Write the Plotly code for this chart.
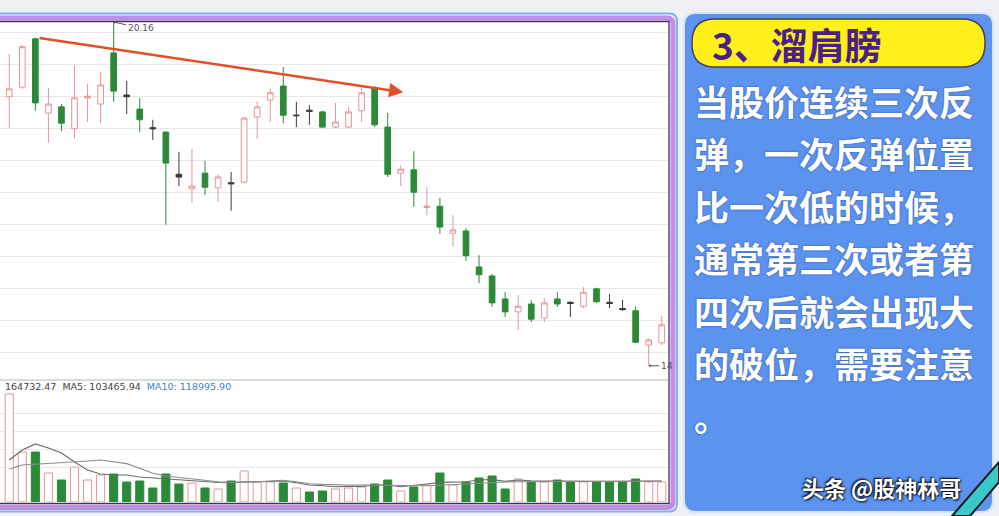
import pandas as pd
import plotly.graph_objects as go

# ---- data ----
open_ = [18.83, 19.00, 19.86, 18.54, 18.65, 18.26, 18.81, 18.70, 19.61, 18.86,
         18.61, 18.28, 18.20, 17.45, 17.19, 17.47, 17.21, 17.30, 17.31, 18.47,
         18.77, 19.02, 18.49, 18.59, 18.56, 18.29, 18.29, 18.58, 18.99, 18.29,
         17.47, 17.53, 16.86, 16.88, 16.40, 16.44, 15.80, 15.64, 15.23, 15.00,
         15.14, 14.89, 15.23, 15.17, 15.10, 15.41, 15.17, 15.06, 15.02, 14.41, 14.45]
high = [19.59, 19.75, 19.88, 18.99, 18.70, 19.39, 19.06, 19.27, 20.16, 19.11,
        18.81, 18.42, 18.21, 17.85, 17.90, 17.69, 17.45, 17.49, 18.47, 18.75,
        18.97, 19.36, 18.74, 18.68, 18.58, 18.72, 18.65, 18.99, 19.02, 18.54,
        17.61, 17.86, 17.22, 17.03, 16.72, 16.49, 16.01, 15.67, 15.35, 15.30,
        15.21, 15.25, 15.35, 15.19, 15.44, 15.43, 15.32, 15.21, 15.10, 14.53, 14.93]
low = [18.27, 18.97, 18.58, 18.01, 18.22, 18.08, 18.38, 18.36, 18.74, 18.52,
       18.20, 18.06, 16.55, 17.24, 16.94, 17.08, 16.96, 16.80, 17.29, 18.08,
       18.38, 18.36, 18.29, 18.33, 18.27, 18.27, 18.27, 18.38, 18.29, 17.40,
       17.24, 16.87, 16.72, 16.39, 16.16, 15.91, 15.51, 15.09, 14.91, 14.68,
       14.82, 14.82, 15.09, 14.91, 15.07, 15.16, 15.07, 15.02, 14.45, 14.04, 14.41]
close = [18.97, 19.72, 18.72, 18.70, 18.36, 18.81, 18.84, 19.04, 18.93, 18.83,
         18.42, 18.26, 17.65, 17.40, 17.24, 17.22, 17.40, 17.28, 18.45, 18.65,
         18.90, 18.50, 18.50, 18.57, 18.29, 18.38, 18.56, 18.90, 18.33, 17.45,
         17.54, 17.13, 16.88, 16.51, 16.46, 16.00, 15.66, 15.16, 15.00, 15.10,
         14.87, 15.16, 15.14, 15.15, 15.35, 15.18, 15.15, 15.04, 14.46, 14.50, 14.77]
# dark cross-star candles
doji = [9, 11, 13, 17, 22, 23, 43, 46, 47]

volume = [864000, 400000, 400000, 232000, 176000, 280000, 176000, 216000, 224000, 160000,
          168000, 112000, 224000, 144000, 152000, 112000, 104000, 168000, 248000, 160000,
          160000, 152000, 112000, 80000, 88000, 104000, 112000, 120000, 144000, 176000,
          88000, 120000, 136000, 232000, 136000, 160000, 192000, 208000, 104000, 184000,
          160000, 160000, 176000, 160000, 160000, 160000, 160000, 160000, 184000, 160000, 160000]
ma5 = [336000, 416000, 464000, 432000, 392000, 320000, 256000, 224000, 216000, 216000,
       200000, 192000, 184000, 176000, 168000, 160000, 156000, 154000, 162000, 162000,
       162000, 168000, 154000, 136000, 130000, 122000, 125000, 125000, 136000, 136000,
       122000, 130000, 144000, 157000, 162000, 162000, 176000, 180000, 165000, 176000,
       170000, 168000, 168000, 168000, 168000, 166000, 166000, 166000, 168000, 168000, 168000]
ma10 = [264000, 296000, 302000, 307000, 312000, 322000, 328000, 336000, 322000, 307000,
        270000, 230000, 208000, 195000, 184000, 173000, 162000, 157000, 157000, 162000,
        168000, 173000, 162000, 146000, 141000, 136000, 136000, 136000, 134000, 132000,
        130000, 128000, 130000, 134000, 140000, 146000, 152000, 156000, 160000, 162000,
        163000, 164000, 165000, 165000, 165000, 166000, 166000, 166000, 166000, 166000, 166000]

trend_x = [2.2, 30.2]
trend_y = [19.88, 18.91]

vol_label = "164732.47  MA5: 103465.94  "
ma10_label = "MA10: 118995.90"
title = "3、溜肩膀"
body_lines = ["当股价连续三次反", "弹，一次反弹位置", "比一次低的时候，",
              "通常第三次或者第", "四次后就会出现大", "的破位，需要注意", "。"]
watermark = "头条 @股神林哥"

# ---- helpers ----
W, H = 999, 516


def X(px):
    return px / W


def Y(py):
    return 1 - py / H


def rr_path(x0, y0, x1, y1, r):
    return (f"M{X(x0 + r)},{Y(y0)} L{X(x1 - r)},{Y(y0)} Q{X(x1)},{Y(y0)} {X(x1)},{Y(y0 + r)} "
            f"L{X(x1)},{Y(y1 - r)} Q{X(x1)},{Y(y1)} {X(x1 - r)},{Y(y1)} "
            f"L{X(x0 + r)},{Y(y1)} Q{X(x0)},{Y(y1)} {X(x0)},{Y(y1 - r)} "
            f"L{X(x0)},{Y(y0 + r)} Q{X(x0)},{Y(y0)} {X(x0 + r)},{Y(y0)} Z")


df = pd.DataFrame({'open': open_, 'high': high, 'low': low, 'close': close,
                   'volume': volume, 'ma5': ma5, 'ma10': ma10})
df['up'] = df['close'] >= df['open']
normal = df.drop(index=doji)
stars = df.loc[doji]

UP = "#e69696"
DOWN = "#2b8a37"

fig = go.Figure()
fig.add_trace(go.Candlestick(
    x=normal.index, open=normal['open'], high=normal['high'], low=normal['low'], close=normal['close'],
    increasing=dict(line=dict(color=UP, width=1), fillcolor="white"),
    decreasing=dict(line=dict(color=DOWN, width=1), fillcolor=DOWN),
    xaxis='x', yaxis='y', showlegend=False, hoverinfo='skip'))
fig.add_trace(go.Candlestick(
    x=stars.index, open=stars['open'], high=stars['high'], low=stars['low'], close=stars['close'],
    increasing=dict(line=dict(color="#3a3a3a", width=1), fillcolor="#3a3a3a"),
    decreasing=dict(line=dict(color="#3a3a3a", width=1), fillcolor="#3a3a3a"),
    xaxis='x', yaxis='y', showlegend=False, hoverinfo='skip'))

fig.add_trace(go.Bar(
    x=df.index, y=df['volume'], width=0.62,
    marker=dict(color=["white" if u else DOWN for u in df['up']],
                line=dict(color=[UP if u else DOWN for u in df['up']], width=1)),
    xaxis='x2', yaxis='y2', showlegend=False, hoverinfo='skip'))
fig.add_trace(go.Scatter(x=df.index, y=df['ma5'], mode='lines',
                         line=dict(color="#6a6a6a", width=1.2),
                         xaxis='x2', yaxis='y2', showlegend=False, hoverinfo='skip'))
fig.add_trace(go.Scatter(x=df.index, y=df['ma10'], mode='lines',
                         line=dict(color="#8c8c8c", width=1.2),
                         xaxis='x2', yaxis='y2', showlegend=False, hoverinfo='skip'))

xrange = [-0.71, 50.48]
fig.update_layout(
    width=W, height=H, autosize=False,
    margin=dict(l=0, r=0, t=0, b=0),
    paper_bgcolor="#eef0f4", plot_bgcolor="rgba(0,0,0,0)",
    boxgap=0.38,
    xaxis=dict(domain=[0, X(668)], range=xrange, showgrid=False, showticklabels=False,
               zeroline=False, rangeslider=dict(visible=False), anchor='y'),
    yaxis=dict(domain=[Y(378), Y(20)], range=[13.823, 20.196], showticklabels=False,
               zeroline=False, gridcolor="#e8e8e8", tick0=19.982, dtick=0.571, anchor='x'),
    xaxis2=dict(domain=[0, X(668)], range=xrange, showgrid=False, showticklabels=False,
                zeroline=False, anchor='y2'),
    yaxis2=dict(domain=[Y(502), Y(382)], range=[0, 960000], showticklabels=False,
                zeroline=False, gridcolor="#e8e8e8",
                tickvals=[280000, 424000, 568000, 712000], anchor='x2'),
)

shapes = [
    # white chart panel
    dict(type='rect', xref='paper', yref='paper', x0=-0.02, x1=X(669), y0=Y(503), y1=Y(21),
         fillcolor="white", line=dict(width=0), layer='below'),
    # separator between price and volume
    dict(type='line', xref='paper', yref='paper', x0=0, x1=X(668), y0=Y(380), y1=Y(380),
         line=dict(color="#cfcfcf", width=1.5), layer='below'),
    # right blue text panel
    dict(type='path', xref='paper', yref='paper', path=rr_path(684, 13, 993, 512, 12),
         fillcolor="#5b93ef", line=dict(color="#d5e3fb", width=2), layer='below'),
    # yellow title pill
    dict(type='path', xref='paper', yref='paper', path=rr_path(692, 19, 985, 67, 23),
         fillcolor="#fff01a", line=dict(color="#4d3d63", width=1.5), layer='below'),
    # chart panel borders
    dict(type='path', xref='paper', yref='paper', path=rr_path(-30, 13.5, 677, 511.5, 8),
         line=dict(color="#86aef2", width=2)),
    dict(type='path', xref='paper', yref='paper', path=rr_path(-30, 18, 673, 507.5, 6),
         line=dict(color="#bf8fe6", width=5)),
    dict(type='rect', xref='paper', yref='paper', x0=-0.03, x1=X(669), y0=Y(503.5), y1=Y(21.5),
         line=dict(color="#4a2d66", width=1.3)),
    # teal corner mark
    dict(type='path', xref='paper', yref='paper',
         path=f"M{X(952)},{Y(516)} L{X(999)},{Y(462)} L{X(999)},{Y(482)} L{X(970)},{Y(516)} Z",
         fillcolor="#39c9c9", line=dict(color="#1a1a1a", width=2)),
]
fig.update_layout(shapes=shapes)

ann = [
    dict(x=trend_x[1], y=trend_y[1], ax=trend_x[0], ay=trend_y[0], xref='x', yref='y',
         axref='x', ayref='y', text="", showarrow=True, arrowhead=2, arrowsize=1.1,
         arrowwidth=2.6, arrowcolor="#e0512b"),
    dict(x=8, y=high[8], xref='x', yref='y', text="20.16", showarrow=True, ax=27, ay=6,
         arrowhead=1, arrowsize=0.6, arrowwidth=1, arrowcolor="#555", standoff=0,
         font=dict(family="DejaVu Sans", size=9, color="#555")),
    dict(x=49, y=low[49], xref='x', yref='y', text="14", showarrow=True, ax=18, ay=0,
         arrowhead=1, arrowsize=0.6, arrowwidth=1, arrowcolor="#555", standoff=0,
         font=dict(family="DejaVu Sans", size=9, color="#555")),
    dict(x=X(3), y=Y(386), xref='paper', yref='paper', xanchor='left', yanchor='middle',
         showarrow=False,
         text=vol_label + f"<span style='color:#3d7fd6'>{ma10_label}</span>",
         font=dict(family="DejaVu Sans", size=9.5, color="#444")),
    dict(x=X(710), y=Y(44), xref='paper', yref='paper', xanchor='left', yanchor='middle',
         showarrow=False, text=title,
         font=dict(family="Noto Sans CJK SC", size=37, color="#4b1f86", weight="bold")),
    dict(x=X(800), y=Y(487), xref='paper', yref='paper', xanchor='left', yanchor='middle',
         showarrow=False, text=watermark,
         font=dict(family="Noto Sans CJK SC", size=22, color="white", weight="bold",
                   shadow="1px 1px 2px #000, -1px -1px 2px #000")),
]
for k, line in enumerate(body_lines):
    ann.append(dict(x=X(692), y=Y(100 + k * 52.5), xref='paper', yref='paper',
                    xanchor='left', yanchor='middle', showarrow=False, text=line,
                    font=dict(family="Noto Sans CJK SC", size=35, color="white", weight=600,
                              shadow="0px 0px 2px rgba(30,50,110,0.7)")))
fig.update_layout(annotations=ann)

fig.write_html("out.html", config={'displayModeBar': False},
               post_script="document.body.style.margin='0';")
